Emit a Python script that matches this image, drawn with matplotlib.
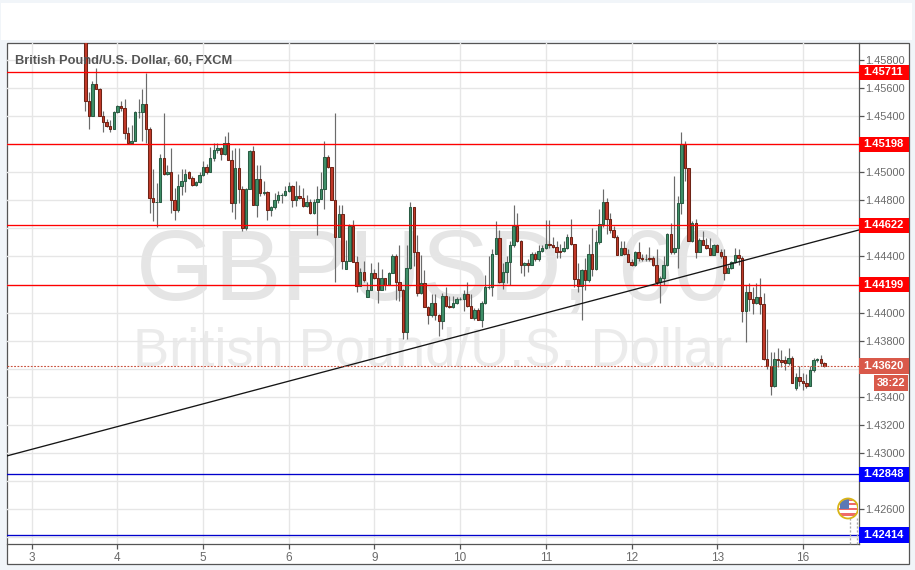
import matplotlib
matplotlib.use("Agg")
import matplotlib.pyplot as plt
from matplotlib.patches import Rectangle, Circle
from matplotlib.transforms import blended_transform_factory

W, H = 915, 570
plt.rcParams['font.family'] = ['Liberation Sans', 'DejaVu Sans']

opens = [1.4600,1.4551,1.4540,1.4563,1.4559,1.4540,1.4536,1.4533,1.4531,1.4543,
1.4547,1.4546,1.4528,1.4521,1.4522,1.4543,1.4543,1.4549,1.4531,1.4482,
1.4479,1.4479,1.4510,1.4499,1.4500,1.4480,1.4473,1.4490,1.4494,1.4500,
1.4496,1.4491,1.4493,1.4498,1.4504,1.4500,1.4510,1.4516,1.4517,1.4513,
1.4521,1.4509,1.4478,1.4503,1.4488,1.4460,1.4488,1.4515,1.4477,1.4495,
1.4485,1.4486,1.4473,1.4475,1.4480,1.4484,1.4484,1.4487,1.4490,1.4480,
1.4483,1.4482,1.4476,1.4479,1.4471,1.4479,1.4481,1.4488,1.4511,1.4504,
1.4480,1.4454,1.4470,1.4431,1.4437,1.4462,1.4436,1.4419,1.4429,1.4411,
1.4416,1.4428,1.4425,1.4416,1.4425,1.4420,1.4428,1.4440,1.4422,1.4416,
1.4386,1.4432,1.4475,1.4443,1.4414,1.4421,1.4404,1.4398,1.4407,1.4398,
1.4394,1.4412,1.4405,1.4404,1.4407,1.4410,1.4410,1.4413,1.4405,1.4396,
1.4402,1.4395,1.4407,1.4418,1.4418,1.4442,1.4453,1.4422,1.4429,1.4436,
1.4448,1.4462,1.4451,1.4434,1.4435,1.4434,1.4442,1.4438,1.4444,1.4446,
1.4449,1.4448,1.4447,1.4444,1.4444,1.4446,1.4454,1.4449,1.4424,1.4419,
1.4430,1.4423,1.4442,1.4431,1.4450,1.4463,1.4479,1.4467,1.4459,1.4454,
1.4441,1.4446,1.4442,1.4436,1.4434,1.4443,1.4439,1.4438,1.4439,1.4439,
1.4434,1.4422,1.4425,1.4434,1.4456,1.4443,1.4446,1.4478,1.4520,1.4503,
1.4451,1.4464,1.4443,1.4452,1.4448,1.4446,1.4441,1.4448,1.4443,1.4440,
1.4428,1.4432,1.4436,1.4441,1.4439,1.4401,1.4415,1.4410,1.4407,1.4411,
1.4406,1.4367,1.4362,1.4348,1.4367,1.4366,1.4366,1.4364,1.4368,1.4346,
1.4354,1.4351,1.4350,1.4348,1.4359,1.4366,1.4367,1.4364]

closes = [1.4551,1.4540,1.4563,1.4559,1.4540,1.4536,1.4533,1.4531,1.4543,1.4547,
1.4546,1.4528,1.4521,1.4522,1.4543,1.4543,1.4549,1.4531,1.4482,1.4479,
1.4479,1.4510,1.4499,1.4500,1.4480,1.4473,1.4490,1.4494,1.4499,1.4496,
1.4491,1.4493,1.4498,1.4504,1.4500,1.4510,1.4516,1.4517,1.4513,1.4521,
1.4509,1.4478,1.4503,1.4488,1.4460,1.4488,1.4515,1.4477,1.4495,1.4485,
1.4486,1.4473,1.4475,1.4480,1.4484,1.4484,1.4487,1.4490,1.4480,1.4483,
1.4482,1.4476,1.4479,1.4471,1.4479,1.4481,1.4488,1.4511,1.4504,1.4480,
1.4454,1.4470,1.4437,1.4437,1.4462,1.4436,1.4419,1.4429,1.4423,1.4416,
1.4428,1.4425,1.4416,1.4425,1.4420,1.4428,1.4440,1.4422,1.4416,1.4386,
1.4432,1.4475,1.4443,1.4414,1.4421,1.4404,1.4398,1.4407,1.4398,1.4394,
1.4412,1.4405,1.4404,1.4407,1.4410,1.4410,1.4413,1.4405,1.4396,1.4402,
1.4395,1.4407,1.4418,1.4418,1.4442,1.4453,1.4422,1.4429,1.4436,1.4448,
1.4462,1.4451,1.4434,1.4435,1.4434,1.4442,1.4438,1.4444,1.4446,1.4449,
1.4448,1.4447,1.4443,1.4443,1.4446,1.4454,1.4449,1.4424,1.4419,1.4430,
1.4423,1.4442,1.4431,1.4450,1.4463,1.4479,1.4467,1.4459,1.4454,1.4441,
1.4446,1.4442,1.4436,1.4434,1.4443,1.4439,1.4438,1.4438,1.4438,1.4434,
1.4422,1.4425,1.4434,1.4456,1.4443,1.4446,1.4478,1.4520,1.4503,1.4451,
1.4464,1.4443,1.4452,1.4448,1.4446,1.4441,1.4448,1.4443,1.4440,1.4428,
1.4432,1.4436,1.4441,1.4439,1.4401,1.4415,1.4410,1.4407,1.4411,1.4406,
1.4367,1.4362,1.4348,1.4367,1.4366,1.4365,1.4364,1.4368,1.4350,1.4354,
1.4351,1.4350,1.4348,1.4359,1.4366,1.4367,1.4364,1.4362]

highs = [1.4600,1.4557,1.4565,1.4574,1.4560,1.4544,1.4538,1.4537,1.4544,1.4548,
1.4551,1.4552,1.4532,1.4534,1.4544,1.4552,1.4559,1.4571,1.4532,1.4502,
1.4492,1.4513,1.4542,1.4505,1.4517,1.4489,1.4499,1.4502,1.4502,1.4501,
1.4497,1.4494,1.4500,1.4508,1.4506,1.4518,1.4521,1.4521,1.4518,1.4526,
1.4529,1.4516,1.4517,1.4517,1.4490,1.4489,1.4516,1.4519,1.4505,1.4505,
1.4494,1.4487,1.4476,1.4485,1.4487,1.4485,1.4490,1.4493,1.4491,1.4494,
1.4491,1.4489,1.4484,1.4481,1.4481,1.4490,1.4500,1.4522,1.4512,1.4504,
1.4542,1.4477,1.4477,1.4452,1.4463,1.4466,1.4440,1.4432,1.4437,1.4422,
1.4435,1.4431,1.4436,1.4431,1.4425,1.4429,1.4442,1.4442,1.4448,1.4417,
1.4448,1.4479,1.4475,1.4455,1.4441,1.4430,1.4405,1.4413,1.4413,1.4399,
1.4414,1.4418,1.4412,1.4412,1.4411,1.4411,1.4416,1.4422,1.4413,1.4403,
1.4403,1.4408,1.4427,1.4440,1.4445,1.44655,1.4459,1.4435,1.4440,1.4451,
1.4477,1.4471,1.4452,1.4436,1.4438,1.4443,1.4443,1.4448,1.4448,1.4466,
1.4466,1.4454,1.4451,1.4449,1.4451,1.4456,1.4467,1.4449,1.4435,1.4431,
1.4439,1.4449,1.4460,1.4459,1.4474,1.4488,1.4482,1.4471,1.4462,1.4455,
1.4451,1.4451,1.4445,1.4438,1.4444,1.4450,1.4442,1.4442,1.4447,1.4440,
1.4445,1.4426,1.4440,1.4457,1.4464,1.4497,1.4483,1.4529,1.4522,1.4503,
1.4465,1.4467,1.4453,1.4458,1.4453,1.4453,1.4449,1.4449,1.4445,1.4445,
1.4434,1.4437,1.4446,1.4445,1.4440,1.4420,1.4421,1.4418,1.4421,1.4425,
1.4414,1.4388,1.4372,1.4372,1.4375,1.4373,1.4369,1.4375,1.4369,1.4357,
1.4362,1.4357,1.4356,1.4362,1.4368,1.4368,1.4370,1.4365]

lows = [1.4544,1.4531,1.4540,1.4559,1.4540,1.4529,1.4532,1.4529,1.4531,1.4542,
1.4544,1.4524,1.4520,1.4520,1.4522,1.4539,1.4522,1.4521,1.4471,1.4465,
1.4461,1.4479,1.4498,1.4498,1.4471,1.4466,1.4472,1.4484,1.4486,1.4495,
1.4490,1.4490,1.4492,1.4497,1.4499,1.4500,1.4508,1.4514,1.4509,1.4512,
1.4509,1.4472,1.4467,1.4478,1.4458,1.4459,1.4488,1.4477,1.4468,1.4483,
1.4484,1.4466,1.4469,1.4474,1.4478,1.4478,1.4483,1.4486,1.4475,1.4476,
1.4481,1.4475,1.4475,1.4470,1.4470,1.4455,1.4481,1.4474,1.4503,1.4480,
1.4422,1.4454,1.4431,1.4431,1.4437,1.4436,1.4415,1.4419,1.4422,1.4411,
1.4416,1.4424,1.4407,1.4416,1.4416,1.4420,1.4428,1.4409,1.4408,1.4381,
1.4381,1.4431,1.4433,1.4412,1.4413,1.4404,1.4392,1.4397,1.4395,1.4383,
1.4388,1.4404,1.4403,1.4403,1.4406,1.4409,1.4401,1.4404,1.4396,1.4395,
1.4395,1.4390,1.4406,1.4417,1.4412,1.4442,1.4421,1.4417,1.4421,1.4420,
1.4447,1.4450,1.4428,1.4426,1.4429,1.4434,1.4437,1.4437,1.4443,1.4445,
1.4446,1.4446,1.4439,1.4439,1.4443,1.4445,1.4448,1.4418,1.4415,1.4395,
1.4416,1.4422,1.4426,1.4430,1.4449,1.4461,1.4456,1.4457,1.4453,1.4441,
1.4441,1.4441,1.4436,1.4433,1.4433,1.4437,1.4437,1.4437,1.4437,1.4433,
1.4420,1.4407,1.4420,1.4433,1.4442,1.4442,1.4432,1.4470,1.4494,1.4451,
1.4450,1.4439,1.4443,1.4448,1.4445,1.4441,1.4441,1.4443,1.4439,1.4423,
1.4428,1.4431,1.4435,1.4434,1.4393,1.4379,1.4401,1.4399,1.4406,1.4399,
1.4366,1.4360,1.4341,1.4347,1.4361,1.4361,1.4359,1.4363,1.4350,1.4345,
1.4348,1.4345,1.4346,1.4348,1.4358,1.4365,1.4362,1.4361]

day_labels = ['3','4','5','6','9','10','11','12','13','16']
day_ticks = [-15,9,33,57,81,105,129,153,177,201]
price_ticks = [1.426,1.430,1.432,1.434,1.436,1.438,1.440,1.442,1.444,
               1.446,1.448,1.450,1.452,1.454,1.456,1.458]
covered_ticks = [1.436,1.442,1.446,1.452]
hidden_grid = [1.424,1.428]
red_levels = [1.45711,1.45198,1.44622,1.44199]
blue_levels = [1.42848,1.42414]
last_price = 1.43620
countdown = '38:22'
trend_prices = [1.42978,1.44588]
title = 'British Pound/U.S. Dollar, 60, FXCM'
watermark_1 = 'GBPUSD, 60'
watermark_2 = 'British Pound/U.S. Dollar'

XLIM = (-22.07, 216.58)
YLIM = (1.42351, 1.45919)
L, R, T, B = 6.5, 858.5, 43.3, 544.0
RIGHT_OUT, BOTTOM_OUT = 908.5, 563.5
FRAME = '#555555'

fig = plt.figure(figsize=(W/100, H/100), dpi=100, facecolor='#f1f5f9')
def fx(px): return px / W
def fy(py): return 1 - py / H

fig.add_artist(Rectangle((fx(1), fy(40)), fx(911), 37/H, transform=fig.transFigure,
                         fc='white', ec='none', zorder=-5))
fig.add_artist(Rectangle((fx(L), fy(BOTTOM_OUT)), fx(RIGHT_OUT-L), (BOTTOM_OUT-T)/H,
                         transform=fig.transFigure, fc='white', ec=FRAME, lw=0.9, zorder=-4))

ax = fig.add_axes([fx(L), fy(B), fx(R-L), (B-T)/H])
ax.patch.set_alpha(0)
ax.set_xlim(*XLIM); ax.set_ylim(*YLIM)
for s in ['top','left']:
    ax.spines[s].set_visible(False)
for s in ['right','bottom']:
    ax.spines[s].set_color(FRAME); ax.spines[s].set_linewidth(0.9)
ax.yaxis.tick_right()
ax.set_yticks(price_ticks)
ax.set_yticklabels(['' if p in covered_ticks else f'{p:.5f}' for p in price_ticks])
ax.set_xticks(day_ticks); ax.set_xticklabels(day_labels)
ax.tick_params(axis='y', length=3.5, width=0.9, color=FRAME, labelcolor='#6a6a6a', labelsize=7.9, pad=1.6)
ax.tick_params(axis='x', length=3.5, width=0.9, color=FRAME, labelcolor='#6a6a6a', labelsize=8.5, pad=2.5)
ax.grid(True, color='#e6e6e6', lw=1.0)
ax.set_axisbelow(True)
for p in hidden_grid:
    ax.axhline(p, color='#e6e6e6', lw=1.0, zorder=0.6)

ax.text(0.5, 0.54, watermark_1, transform=ax.transAxes, ha='center', va='center',
        fontsize=72.5, color='#e5e5e5', zorder=0.5)
ax.text(0.5, 0.385, watermark_2, transform=ax.transAxes, ha='center', va='center',
        fontsize=39, color='#ebebeb', zorder=0.5)

idx = list(range(len(opens)))
ax.vlines(idx, lows, highs, color='#6b6b6b', lw=0.85, zorder=3)
up = [c >= o for o, c in zip(opens, closes)]
bottoms = [min(o, c) for o, c in zip(opens, closes)]
heights = [abs(c - o) for o, c in zip(opens, closes)]
ax.bar(idx, heights, bottom=bottoms, width=0.68,
       color=['#3f8f68' if u else '#c23a2a' for u in up],
       edgecolor=['#2a5c44' if u else '#6e2316' for u in up], lw=0.75, zorder=3.2)

for p in red_levels:
    ax.axhline(p, color='#ff0000', lw=0.95, zorder=4)
for p in blue_levels:
    ax.axhline(p, color='#0000cc', lw=0.95, zorder=4)
ax.plot(XLIM, trend_prices, color='#151515', lw=0.95, zorder=4)
ax.axhline(last_price, color='#c8503c', lw=0.8, ls=(0,(1.6,1.4)), zorder=4)

fig.text(fx(15), fy(60.5), title, fontsize=9.25, fontweight='bold', color='#555555', va='center', ha='left', zorder=6)

tr = blended_transform_factory(ax.transAxes, ax.transData)
tag_w = (RIGHT_OUT - R) / (R - L)
tag_h = 15.5 / (B - T) * (YLIM[1] - YLIM[0])
def tag(price, label, color, x0=1.0, w=tag_w):
    ax.add_patch(Rectangle((x0, price - tag_h/2), w, tag_h, transform=tr, fc=color, ec='none',
                           clip_on=False, zorder=10))
    ax.text(x0 + w/2, price, label, transform=tr, ha='center', va='center', color='white',
            fontsize=8, fontweight='bold', clip_on=False, zorder=11)
for p in red_levels:
    tag(p, f'{p:.5f}', '#ff0000')
for p in blue_levels:
    tag(p, f'{p:.5f}', '#0000ff')
tag(last_price, f'{last_price:.5f}', '#d9594a')
px_per_price = (B - T) / (YLIM[1] - YLIM[0])
tag(last_price - 17.3/px_per_price, countdown, '#d9594a', x0=(874-L)/(R-L), w=(RIGHT_OUT-874)/(R-L))

for xp in (850.3, 857.0):
    fig.add_artist(plt.Line2D([fx(xp), fx(xp)], [fy(518), fy(B-0.5)], transform=fig.transFigure,
                              color='#a9a9a9', lw=0.95, ls=(0,(1.6,1.4)), zorder=5))

ic = fig.add_axes([fx(836.5), fy(520), fx(21.5), 23/H], zorder=8)
ic.set_xlim(-11.5, 10); ic.set_ylim(-11.5, 11.5); ic.axis('off'); ic.patch.set_alpha(0)
c = Circle((0, 0), 9.5, fc='white', ec='none', transform=ic.transData)
ic.add_patch(c)
for y0, hh in ((-7.5, 3), (-2, 2.5), (3, 2.5), (7, 3)):
    b = Rectangle((-10, y0), 20, hh, fc='#ee6a6a', ec='none'); ic.add_patch(b); b.set_clip_path(c)
cant = Rectangle((-8, -1), 8.5, 11, fc='#5b79b5', ec='none'); ic.add_patch(cant); cant.set_clip_path(c)
ic.add_patch(Circle((0, 0), 10, fc='none', ec='#d8b417', lw=1.3, clip_on=True))

fig.savefig('out.png', dpi=100, facecolor=fig.get_facecolor())
